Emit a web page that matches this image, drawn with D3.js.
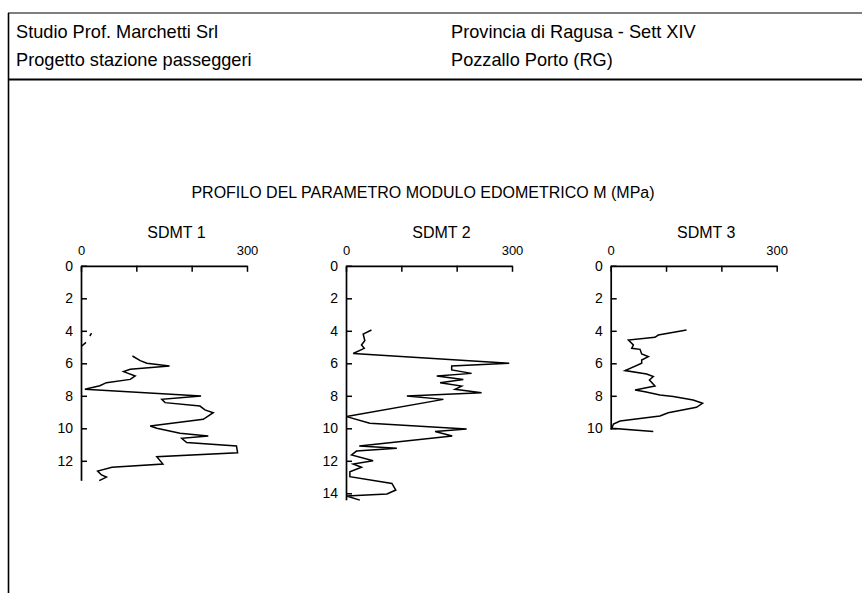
<!DOCTYPE html>
<html>
<head>
<meta charset="utf-8">
<script src="https://cdn.jsdelivr.net/npm/d3@7"></script>
<style>
  html, body { margin: 0; padding: 0; background: #fff; }
  svg { display: block; font-family: "Liberation Sans", Arial, Helvetica, sans-serif; }
</style>
</head>
<body>
<svg id="chart" width="862" height="593"></svg>
<script>
// Header texts
const headerLeft = ["Studio Prof. Marchetti Srl", "Progetto stazione passeggeri"];
const headerRight = ["Provincia di Ragusa - Sett XIV", "Pozzallo Porto (RG)"];
const chartTitle = "PROFILO DEL PARAMETRO MODULO EDOMETRICO M (MPa)";

// Soundings
const soundings = ["SDMT 1", "SDMT 2", "SDMT 3"];
const mTicks = [0, 100, 200, 300];
const mLabels = [0, 300];
const axisDepth = [13.2, 14.4, 10.05];

// SDMT 1 (null marks a gap in the record)
const sdmt1Depth = [4.15, 4.32, null, 4.71, 4.95, null, 5.55, 5.84, 6.0, 6.17, 6.37, 6.51, 6.78, 6.99, 7.19, 7.38, 7.6,
  8.01, 8.22, 8.42, 8.63, 8.87, 9.04, 9.45, 9.86, 10.0, 10.31, 10.47, 10.62, 10.88, 11.09, 11.5, 11.75, 12.2,
  12.4, 12.63, 12.87, 13.0, 13.22];
const sdmt1M = [19, 16, null, 9, 1, null, 93, 107, 119, 160, 89, 77, 98, 89, 46, 34, 7,
  217, 146, 152, 215, 224, 239, 221, 125, 137, 179, 230, 182, 191, 281, 283, 137, 148,
  56, 30, 37, 46, 33];

// SDMT 2
const sdmt2Depth = [3.95, 4.2, 4.6, 4.87, 5.08, 5.4, 6.0, 6.17, 6.41, 6.62, 6.78, 6.99, 7.19, 7.4, 7.6, 7.81,
  8.01, 8.22, 9.28, 9.69, 10.04, 10.2, 10.47, 11.09, 11.23, 11.4, 11.64, 12.0, 12.2, 12.4, 12.67, 12.98,
  13.39, 13.8, 14.04, 14.17, 14.42];
const sdmt2M = [46, 31, 34, 28, 33, 13, 295, 191, 191, 227, 164, 212, 170, 209, 197, 245,
  110, 176, 1, 43, 218, 161, 192, 24, 92, 19, 10, 49, 13, 28, 7, 7,
  83, 90, 74, 1, 25];

// SDMT 3
const sdmt3Depth = [3.95, 4.26, 4.4, 4.57, 4.87, 5.08, 5.14, 5.43, 5.59, 5.8, 6.0, 6.45, 6.66, 6.82, 7.03, 7.4,
  7.64, 7.75, 7.95, 8.05, 8.26, 8.46, 8.71, 9.04, 9.24, 9.55, 9.74, 10.0, 10.2];
const sdmt3M = [137, 86, 80, 32, 41, 38, 53, 56, 68, 56, 56, 26, 65, 77, 70, 80,
  44, 62, 89, 113, 149, 166, 155, 104, 89, 17, 5, 2, 77];

const series = [
  { depth: sdmt1Depth, m: sdmt1M },
  { depth: sdmt2Depth, m: sdmt2M },
  { depth: sdmt3Depth, m: sdmt3M }
];

const svg = d3.select("#chart");

// Sheet frame and header block
const frame = svg.append("g").attr("stroke", "#000").attr("fill", "none");
frame.append("line").attr("x1", 8).attr("x2", 862).attr("y1", 13).attr("y2", 13).attr("stroke-width", 1.2);
frame.append("line").attr("x1", 8).attr("x2", 862).attr("y1", 79.5).attr("y2", 79.5).attr("stroke-width", 2);
frame.append("line").attr("x1", 8.5).attr("x2", 8.5).attr("y1", 13).attr("y2", 593).attr("stroke-width", 1.6);

const head = svg.append("g").attr("font-size", 18.2).attr("fill", "#000");
headerLeft.forEach((t, i) => head.append("text").attr("x", 16).attr("y", 38 + i * 28).text(t));
headerRight.forEach((t, i) => head.append("text").attr("x", 451).attr("y", 38 + i * 28).text(t));

svg.append("text")
  .attr("x", 423).attr("y", 198)
  .attr("text-anchor", "middle")
  .attr("font-size", 16)
  .text(chartTitle);

// Panel layout
const panelX = [81, 346, 610.7];
const panelW = 166;
const topY = 265.8;
const pxPerMetre = 16.25;

soundings.forEach((name, i) => {
  const g = svg.append("g").attr("transform", `translate(${panelX[i]},${topY})`);
  const x = d3.scaleLinear().domain([0, 300]).range([0, panelW]);
  const y = d3.scaleLinear().domain([0, axisDepth[i]]).range([0, axisDepth[i] * pxPerMetre]);

  const xAxis = d3.axisTop(x)
    .tickValues(mTicks)
    .tickSizeInner(-6)
    .tickSizeOuter(0)
    .tickPadding(10.5)
    .tickFormat(d => mLabels.includes(d) ? d : "");
  const gx = g.append("g").call(xAxis);

  const yTicks = d3.range(0, Math.floor(axisDepth[i]) + 1, 2);
  const yAxis = d3.axisLeft(y)
    .tickValues(yTicks)
    .tickSizeInner(-6)
    .tickSizeOuter(0)
    .tickPadding(8);
  const gy = g.append("g").call(yAxis);

  [gx, gy].forEach(a => {
    a.attr("font-family", null);
    a.select(".domain").attr("stroke", "#000").attr("stroke-width", 1.7);
    a.selectAll(".tick line").attr("stroke", "#000").attr("stroke-width", 1.5);
    a.selectAll(".tick text").attr("fill", "#000");
  });
  gx.attr("font-size", 13);
  gy.attr("font-size", 14);

  g.append("text")
    .attr("x", panelW / 2 + 12.5).attr("y", -27.5)
    .attr("text-anchor", "middle")
    .attr("font-size", 16)
    .text(name);

  const pts = series[i].depth.map((d, k) => ({ d, m: series[i].m[k] }));
  const line = d3.line()
    .defined(p => p.d != null && p.m != null)
    .x(p => x(p.m))
    .y(p => y(p.d));
  g.append("path")
    .datum(pts)
    .attr("fill", "none")
    .attr("stroke", "#000")
    .attr("stroke-width", 1.5)
    .attr("stroke-linejoin", "miter")
    .attr("d", line);
});
</script>
</body>
</html>
